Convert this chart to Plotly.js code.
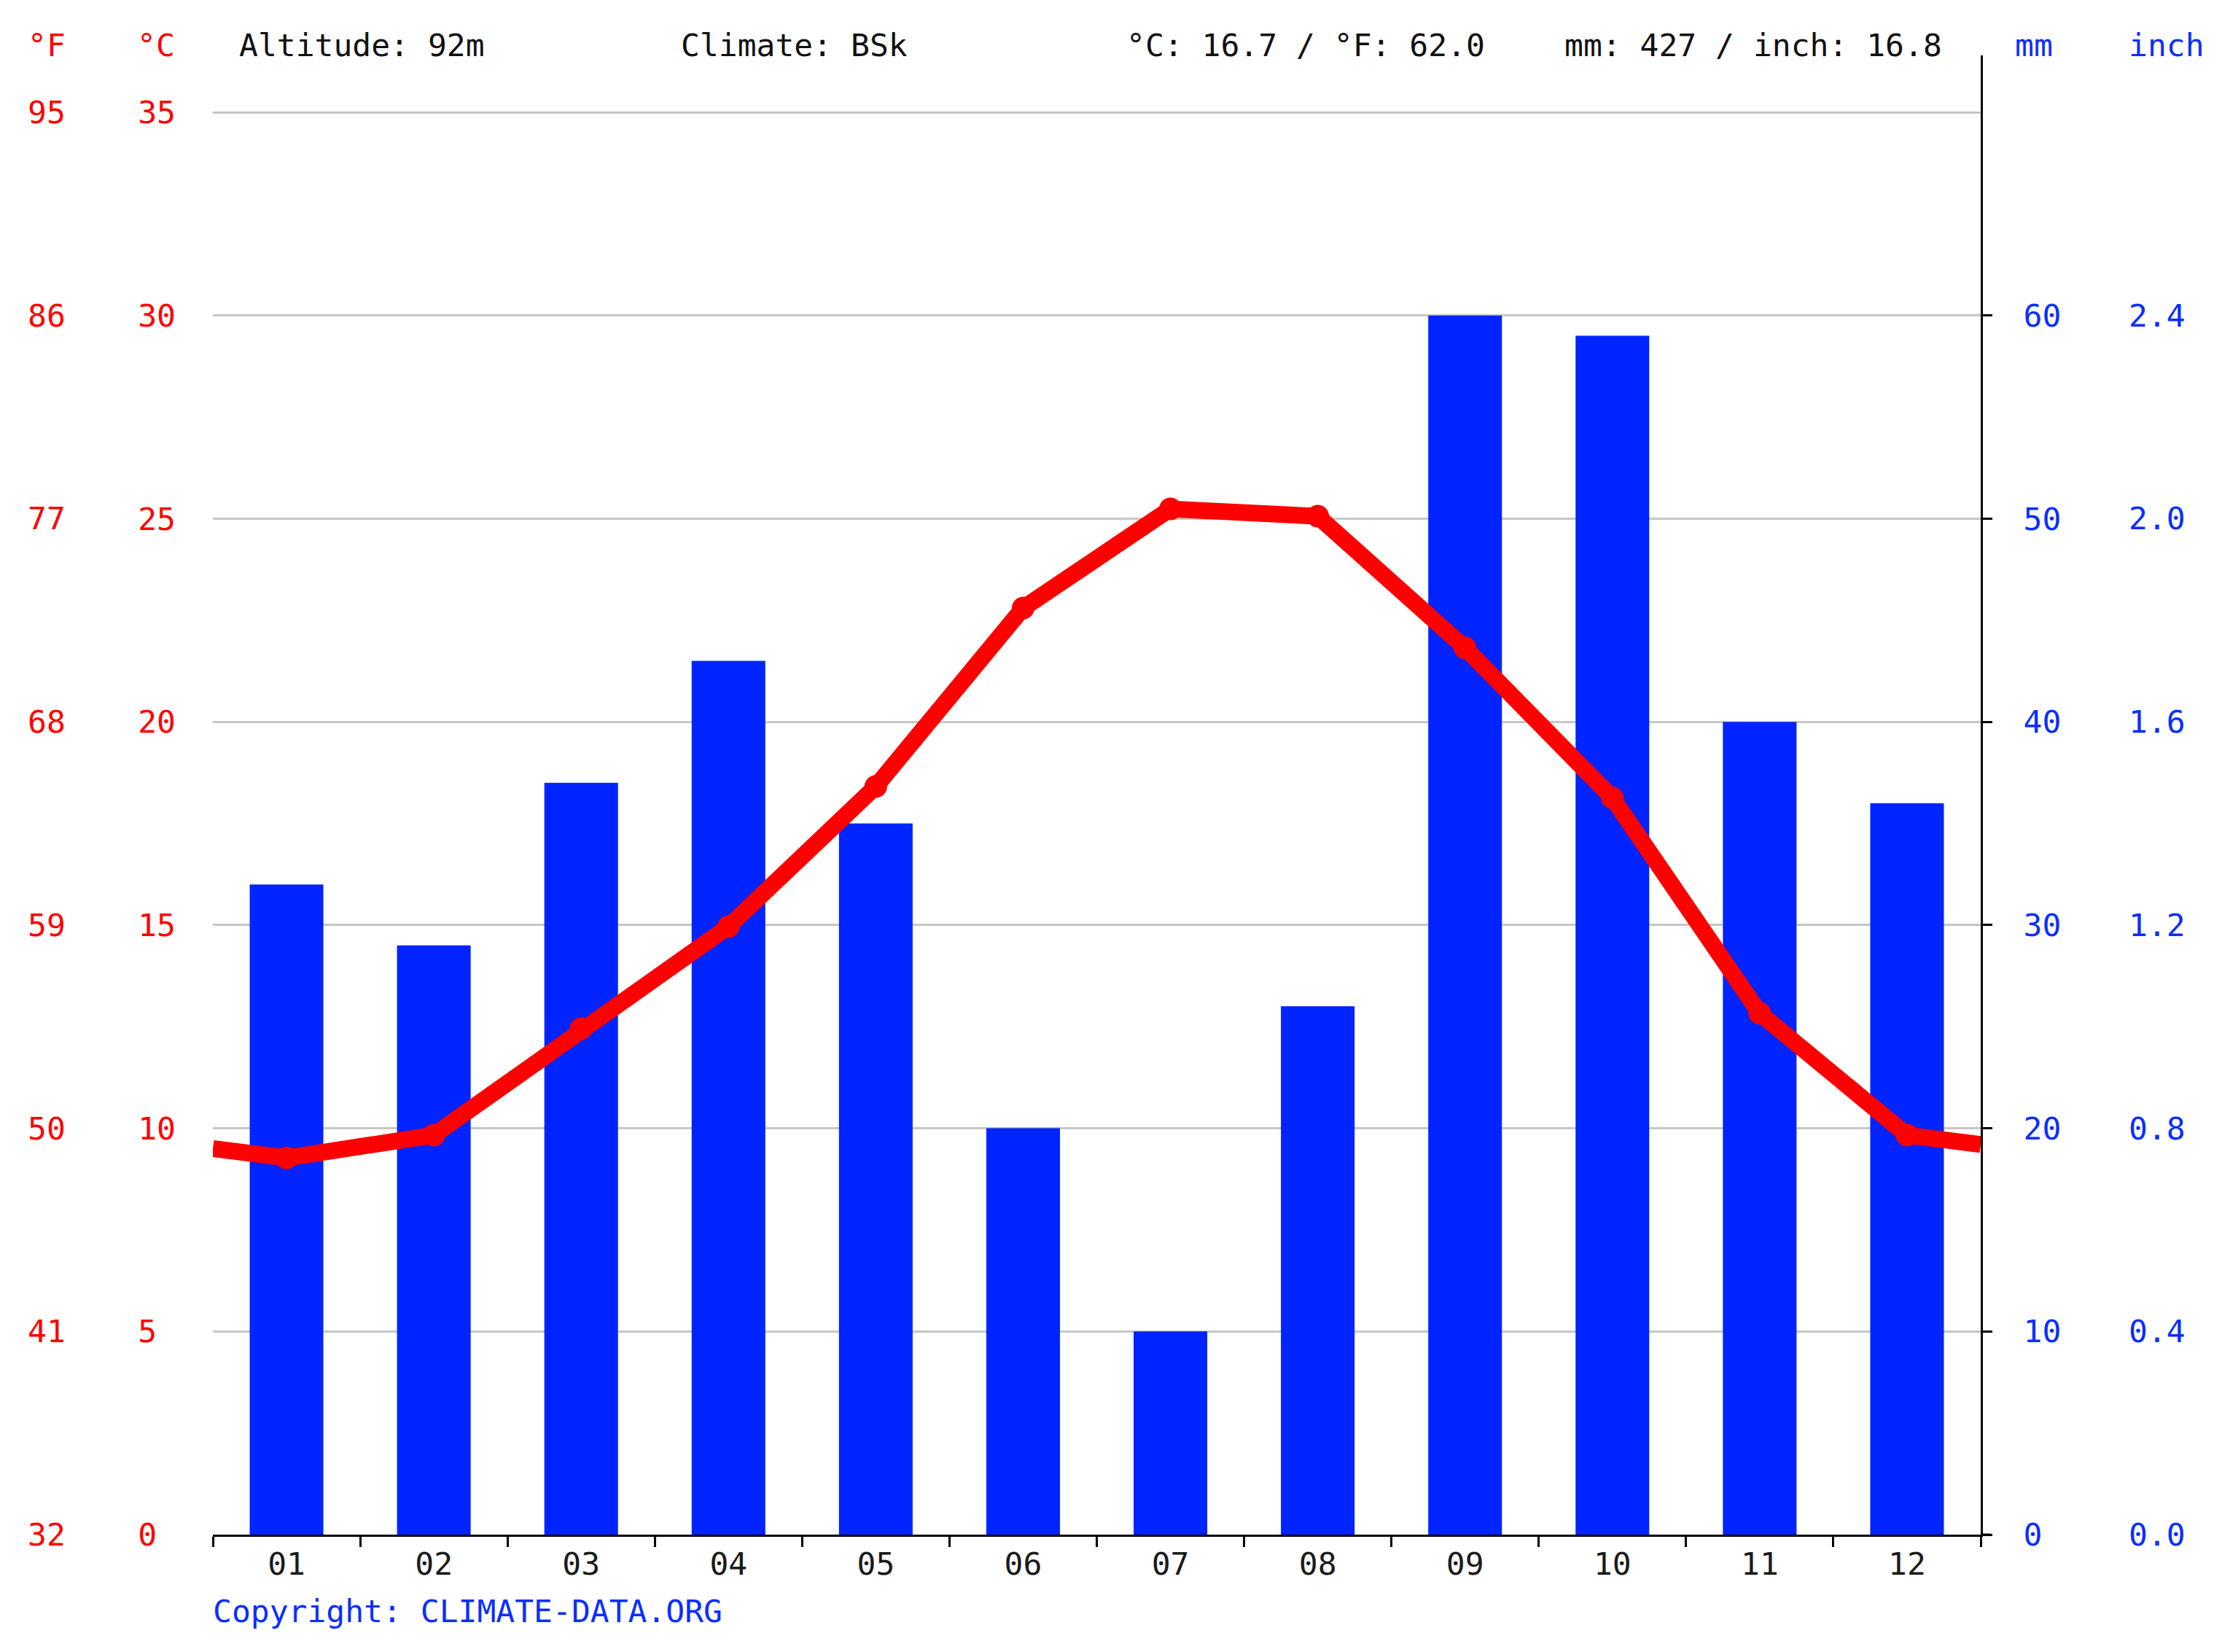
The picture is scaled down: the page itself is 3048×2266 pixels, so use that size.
<!DOCTYPE html>
<html>
<head>
<meta charset="utf-8">
<script src="https://cdn.plot.ly/plotly-3.0.1.min.js"></script>
<style>
html,body{margin:0;padding:0;background:#fff;}
#chart{width:3048px;height:2266px;}
</style>
</head>
<body>
<div id="chart"></div>
<script>
// ---- data ----
const months = ["01","02","03","04","05","06","07","08","09","10","11","12"];
const precipMm = [32, 29, 37, 43, 35, 20, 10, 26, 60, 59, 40, 36];
const tempC = [9.27, 9.83, 12.45, 14.96, 18.41, 22.80, 25.24, 25.06, 21.82, 18.13, 12.83, 9.83];
const tempEdgeLeft = 9.5;   // where the line meets the left edge
const tempEdgeRight = 9.6;  // where the line meets the right edge

const tempTicksC = [0, 5, 10, 15, 20, 25, 30, 35];
const tempTickLabelsC = ["0\u00A0", "5\u00A0", "10", "15", "20", "25", "30", "35"];
const tempTickLabelsF = ["32", "41", "50", "59", "68", "77", "86", "95"];
const precipTicksMm = [0, 10, 20, 30, 40, 50, 60];
const precipTickLabelsMm = ["0", "10", "20", "30", "40", "50", "60"];
const precipTickLabelsInch = ["0.0", "0.4", "0.8", "1.2", "1.6", "2.0", "2.4"];

const headerTexts = ["Altitude: 92m", "Climate: BSk", "°C: 16.7 / °F: 62.0", "mm: 427 / inch: 16.8"];
const unitLabelsLeft = ["°F", "°C"];
const unitLabelsRight = ["mm", "inch"];
const copyrightText = "Copyright: CLIMATE-DATA.ORG";

// ---- geometry ----
const W = 3048, H = 2266;
const FONT = "DejaVu Sans Mono";
const FS = 43;
const RED = "#ff0000";
const BLUE = "#0a2eff";
const BAR = "#0024ff";
const px = v => v / W;
const py = v => 1 - v / H;

const monthPos = months.map((m, i) => i + 1);
const xMin = 0.5, xMax = months.length + 0.5;
const tempTop = 36.40;
const mmTop = tempTop * 2;

const traces = [
  {
    type: "bar", x: monthPos, y: precipMm, width: 0.5,
    marker: {color: BAR, line: {width: 0}},
    xaxis: "x", yaxis: "y", hoverinfo: "skip", showlegend: false
  },
  {
    type: "scatter", mode: "lines",
    x: [xMin].concat(monthPos, [xMax]),
    y: [tempEdgeLeft].concat(tempC, [tempEdgeRight]),
    line: {color: RED, width: 23},
    xaxis: "x", yaxis: "y2", hoverinfo: "skip", showlegend: false
  },
  {
    type: "scatter", mode: "markers",
    x: monthPos, y: tempC,
    marker: {color: RED, size: 31},
    xaxis: "x", yaxis: "y2", hoverinfo: "skip", showlegend: false, cliponaxis: false
  }
];

const annotations = [];
function addText(text, xPix, yPix, color) {
  annotations.push({
    text: text, xref: "paper", yref: "paper",
    x: px(xPix), y: py(yPix), xanchor: "left", yanchor: "middle",
    showarrow: false, font: {family: FONT, size: FS, color: color}
  });
}
addText(unitLabelsLeft[0], 36, 62, RED);
addText(unitLabelsLeft[1], 186, 62, RED);
addText(headerTexts[0], 326, 62, "#111");
addText(headerTexts[1], 932, 62, "#111");
addText(headerTexts[2], 1543, 62, "#111");
addText(headerTexts[3], 2144, 62, "#111");
addText(unitLabelsRight[0], 2762, 62, BLUE);
addText(unitLabelsRight[1], 2918, 62, BLUE);
addText(copyrightText, 290, 2210, BLUE);

// °F labels on the temperature scale, inch labels on the precipitation scale
tempTicksC.forEach((v, i) => {
  annotations.push({
    text: tempTickLabelsF[i], xref: "paper", yref: "y2",
    x: px(36), y: v, xanchor: "left", yanchor: "middle",
    showarrow: false, font: {family: FONT, size: FS, color: RED}
  });
});
precipTicksMm.forEach((v, i) => {
  annotations.push({
    text: precipTickLabelsInch[i], xref: "paper", yref: "y",
    x: px(2918), y: v, xanchor: "left", yanchor: "middle",
    showarrow: false, font: {family: FONT, size: FS, color: BLUE}
  });
});

const layout = {
  width: W, height: H,
  margin: {l: 0, r: 0, t: 0, b: 0, pad: 0},
  paper_bgcolor: "#fff", plot_bgcolor: "rgba(0,0,0,0)",
  showlegend: false,
  bargap: 0.5,
  xaxis: {
    domain: [px(292), px(2717)],
    range: [xMin, xMax], fixedrange: true,
    tickmode: "array", tickvals: monthPos, ticktext: months,
    ticks: "", ticklabelstandoff: 0,
    tickfont: {family: FONT, size: FS, color: "#1a1a1a"},
    minor: {
      tickmode: "array",
      tickvals: monthPos.map(v => v - 0.5).concat([xMax]),
      ticks: "outside", ticklen: 14, tickwidth: 3, tickcolor: "#000",
      showgrid: false
    },
    showline: true, linecolor: "#000", linewidth: 3,
    showgrid: false, zeroline: false, automargin: false
  },
  yaxis: {
    domain: [py(2105), py(76)],
    range: [0, mmTop], fixedrange: true,
    side: "right", anchor: "x",
    tickmode: "array", tickvals: precipTicksMm, ticktext: precipTickLabelsMm,
    ticks: "outside", ticklen: 13, tickwidth: 3, tickcolor: "#000",
    ticklabelstandoff: 34,
    tickfont: {family: FONT, size: FS, color: BLUE},
    showline: true, linecolor: "#000", linewidth: 3,
    showgrid: false, zeroline: false, automargin: false
  },
  yaxis2: {
    overlaying: "y", side: "left", anchor: "x",
    range: [0, tempTop], fixedrange: true,
    tickmode: "array", tickvals: tempTicksC, ticktext: tempTickLabelsC,
    ticks: "", ticklabelstandoff: 50,
    tickfont: {family: FONT, size: FS, color: RED},
    showgrid: true, gridcolor: "#c6c6c6", gridwidth: 3,
    showline: false, zeroline: false, automargin: false
  },
  shapes: [
    {type: "line", xref: "paper", yref: "y", x0: px(2717), x1: px(2731), y0: 0, y1: 0,
     line: {color: "#000", width: 3}}
  ],
  annotations: annotations
};

Plotly.newPlot("chart", traces, layout, {displayModeBar: false, staticPlot: true});
</script>
</body>
</html>
